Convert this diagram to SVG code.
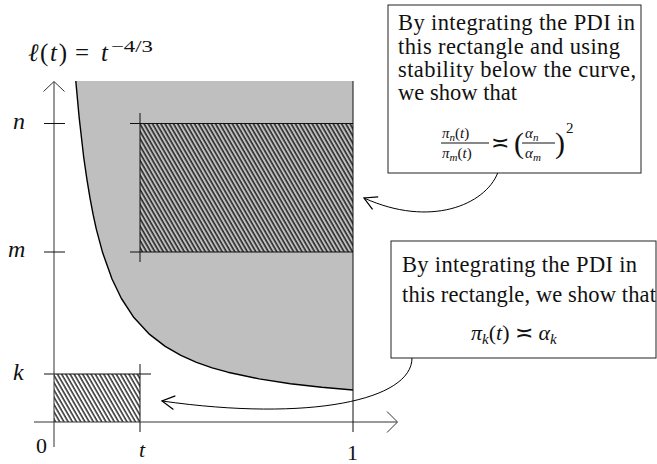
<svg xmlns="http://www.w3.org/2000/svg" width="657" height="464" viewBox="0 0 657 464">
<defs>
<style>
.ax{stroke:#333;stroke-width:1;fill:none}
.ln{stroke:#111;stroke-width:1;fill:none}
.cv{stroke:#000;stroke-width:1.4;fill:none;stroke-linejoin:round}
.cn{stroke:#000;stroke-width:1;fill:none}
text{font-family:'Liberation Serif','DejaVu Serif',serif;fill:#111}
.i{font-style:italic}
.box{fill:#fff;stroke:#222;stroke-width:1}
</style>
<pattern id="hatch" patternUnits="userSpaceOnUse" width="3.64" height="20" patternTransform="rotate(-30)">
<line x1="1" y1="0" x2="1" y2="20" stroke="#000" stroke-width="1.25"/>
</pattern>
<marker id="arr" markerUnits="userSpaceOnUse" markerWidth="20" markerHeight="20" viewBox="-12 -8 16 16" refX="0" refY="0" orient="auto">
<path d="M -10 -5.5 L 0 0 L -10 5.5" fill="none" stroke="#000" stroke-width="1"/>
</marker>
</defs>

<g id="region">
<path d="M 75.8 81 L 77.6 100.6 L 79.1 117 L 83.8 158 L 87 179.8 L 90.1 198.7 L 93.2 214.9 L 96.3 229.1 L 102.6 252.6 L 112 279 L 121.4 298.5 L 133.9 317.6 L 149.6 334.4 L 165.2 346.4 L 180.9 355.4 L 196.5 362.3 L 212.2 367.8 L 227.8 372.2 L 259.1 378.9 L 290.4 383.7 L 321.7 387.3 L 353 390 L 353 81 Z" fill="#bfbfbf"/>
<path class="cv" d="M 75.8 81 L 77.6 100.6 L 79.1 117 L 83.8 158 L 87 179.8 L 90.1 198.7 L 93.2 214.9 L 96.3 229.1 L 102.6 252.6 L 112 279 L 121.4 298.5 L 133.9 317.6 L 149.6 334.4 L 165.2 346.4 L 180.9 355.4 L 196.5 362.3 L 212.2 367.8 L 227.8 372.2 L 259.1 378.9 L 290.4 383.7 L 321.7 387.3 L 353 390"/>
</g>

<g id="rect-big">
<rect x="140" y="123.5" width="213" height="128.5" fill="url(#hatch)"/>
<line class="ln" x1="130" y1="123.5" x2="353" y2="123.5"/>
<line class="ln" x1="130" y1="252" x2="353" y2="252"/>
<line class="ln" x1="140" y1="113" x2="140" y2="262"/>
</g>

<g id="rect-small">
<rect x="54" y="374" width="86" height="48" fill="url(#hatch)"/>
<line class="ln" x1="44" y1="374" x2="151" y2="374"/>
<line class="ln" x1="140" y1="364" x2="140" y2="432"/>
</g>

<g id="axes">
<line class="ax" x1="54" y1="447" x2="54" y2="82"/>
<polyline class="ax" points="43.5,91.5 54,81.5 64.5,91.5"/>
<line class="ax" x1="34" y1="422" x2="397" y2="422"/>
<polyline class="ax" points="387,411.5 397.5,422 387,432.5"/>
<line class="ln" x1="353" y1="81" x2="353" y2="432"/>
<line class="ln" x1="44" y1="123.5" x2="65" y2="123.5"/>
<line class="ln" x1="44" y1="252" x2="65" y2="252"/>
</g>

<g id="labels" font-family="'Liberation Serif','DejaVu Serif',serif">
<text x="28" y="61" font-size="25" textLength="39" lengthAdjust="spacing"><tspan class="i">ℓ</tspan>(<tspan class="i">t</tspan>)</text>
<text x="75" y="61" font-size="25">=</text>
<text class="i" x="101" y="61" font-size="25">t</text>
<text x="111" y="52" font-size="17" textLength="42" lengthAdjust="spacingAndGlyphs">−4/3</text>
<text class="i" x="13" y="129" font-size="24">n</text>
<text class="i" x="8" y="257" font-size="24">m</text>
<text class="i" x="13" y="380" font-size="24">k</text>
<text x="36" y="453" font-size="22">0</text>
<text class="i" x="139" y="457" font-size="22">t</text>
<text x="347" y="460" font-size="22">1</text>
</g>

<g id="box1" font-family="'Liberation Serif','DejaVu Serif',serif">
<rect class="box" x="388" y="5" width="253" height="168"/>
<text x="398" y="30" font-size="22.5" textLength="237" lengthAdjust="spacing">By integrating the PDI in</text>
<text x="398" y="54" font-size="22.5" textLength="222" lengthAdjust="spacing">this rectangle and using</text>
<text x="398" y="77" font-size="22.5" textLength="238" lengthAdjust="spacing">stability below the curve,</text>
<text x="398" y="100" font-size="22.5" textLength="119" lengthAdjust="spacing">we show that</text>
<text x="442" y="138" font-size="15"><tspan class="i">π</tspan><tspan class="i" font-size="11" dy="3">n</tspan><tspan dy="-3">(</tspan><tspan class="i">t</tspan>)</text>
<line class="ln" x1="441" y1="143" x2="489" y2="143"/>
<text x="442" y="158" font-size="15"><tspan class="i">π</tspan><tspan class="i" font-size="11" dy="3">m</tspan><tspan dy="-3">(</tspan><tspan class="i">t</tspan>)</text>
<text x="491" y="150" font-size="22">≍</text>
<text x="514" y="153" font-size="30">(</text>
<text x="525" y="138" font-size="15"><tspan class="i">α</tspan><tspan class="i" font-size="11" dy="3">n</tspan></text>
<line class="ln" x1="522" y1="143" x2="555" y2="143"/>
<text x="525" y="158" font-size="15"><tspan class="i">α</tspan><tspan class="i" font-size="11" dy="3">m</tspan></text>
<text x="555" y="153" font-size="30">)</text>
<text x="566" y="133" font-size="15">2</text>
</g>

<g id="box2" font-family="'Liberation Serif','DejaVu Serif',serif">
<rect class="box" x="391" y="241" width="265" height="117"/>
<text x="402" y="272" font-size="22.5" textLength="235" lengthAdjust="spacing">By integrating the PDI in</text>
<text x="402" y="302" font-size="22.5" textLength="254" lengthAdjust="spacing">this rectangle, we show that</text>
<text x="471" y="340" font-size="22"><tspan class="i">π</tspan><tspan class="i" font-size="15" dy="4">k</tspan><tspan dy="-4">(</tspan><tspan class="i">t</tspan>) ≍ <tspan class="i">α</tspan><tspan class="i" font-size="15" dy="4">k</tspan></text>
</g>

<g id="connectors">
<path class="cn" d="M 497.7 173 C 485 205, 430 228, 364 198" marker-end="url(#arr)"/>
<path class="cn" d="M 412 358 C 412 400, 310 422, 162 401" marker-end="url(#arr)"/>
</g>
</svg>
